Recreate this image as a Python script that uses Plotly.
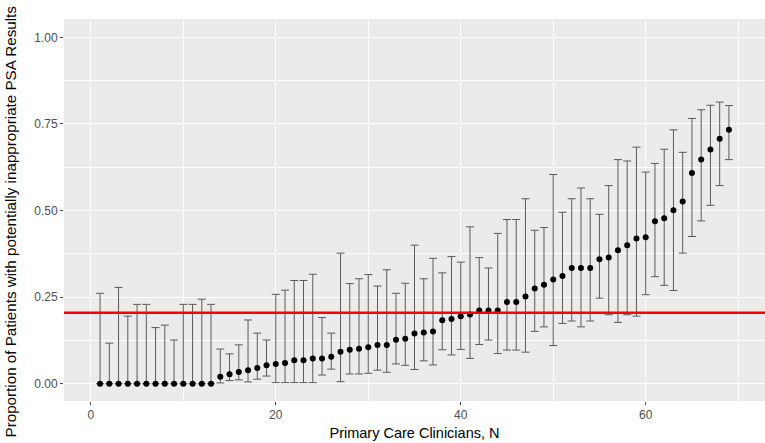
import plotly.graph_objects as go

clinician = list(range(1, 70))
proportion = [0, 0, 0, 0, 0, 0, 0, 0, 0, 0, 0, 0, 0,
              0.020, 0.027, 0.034, 0.039, 0.045, 0.053, 0.057, 0.060, 0.068, 0.068,
              0.073, 0.073, 0.078, 0.092, 0.098, 0.101, 0.105, 0.112, 0.112, 0.127,
              0.130, 0.145, 0.148, 0.151, 0.183, 0.187, 0.195, 0.200, 0.211, 0.211,
              0.211, 0.236, 0.236, 0.252, 0.275, 0.286, 0.301, 0.311, 0.334, 0.334,
              0.334, 0.359, 0.364, 0.385, 0.400, 0.419, 0.423, 0.469, 0.478, 0.501,
              0.526, 0.608, 0.647, 0.676, 0.707, 0.733]
upper = [0.261, 0.117, 0.278, 0.195, 0.229, 0.229, 0.162, 0.169, 0.126, 0.229,
         0.229, 0.244, 0.229, 0.100, 0.086, 0.112, 0.184, 0.146, 0.126, 0.258,
         0.270, 0.298, 0.298, 0.316, 0.191, 0.146, 0.377, 0.289, 0.303, 0.315,
         0.282, 0.329, 0.261, 0.290, 0.400, 0.303, 0.362, 0.320, 0.367, 0.351,
         0.453, 0.364, 0.334, 0.434, 0.474, 0.474, 0.534, 0.443, 0.451, 0.604,
         0.495, 0.534, 0.565, 0.534, 0.489, 0.572, 0.647, 0.643, 0.683, 0.611,
         0.636, 0.677, 0.733, 0.668, 0.766, 0.791, 0.804, 0.813, 0.803]
lower = [0, 0, 0, 0, 0, 0, 0, 0, 0, 0, 0, 0, 0,
         0.002, 0.009, 0.011, 0.005, 0.013, 0.022, 0.003, 0.003, 0.003, 0.003,
         0.003, 0.025, 0.042, 0.006, 0.028, 0.028, 0.030, 0.039, 0.033, 0.057,
         0.053, 0.041, 0.066, 0.054, 0.098, 0.083, 0.099, 0.073, 0.113, 0.126,
         0.087, 0.097, 0.097, 0.091, 0.151, 0.164, 0.110, 0.174, 0.181, 0.164,
         0.181, 0.247, 0.199, 0.177, 0.199, 0.195, 0.257, 0.309, 0.284, 0.269,
         0.377, 0.425, 0.470, 0.515, 0.572, 0.647]
overall_rate = 0.205

x_ticks = [0, 20, 40, 60]
y_ticks = [0, 0.25, 0.5, 0.75, 1.0]
y_tick_labels = ["0.00", "0.25", "0.50", "0.75", "1.00"]

err_plus = [u - p for u, p in zip(upper, proportion)]
err_minus = [p - l for p, l in zip(proportion, lower)]

fig = go.Figure()
fig.add_trace(go.Scatter(
    x=clinician, y=proportion, mode="markers",
    marker=dict(color="black", size=6),
    error_y=dict(type="data", symmetric=False, array=err_plus, arrayminus=err_minus,
                 color="#5a5a5a", thickness=1, width=4),
    showlegend=False, hoverinfo="skip",
))
fig.add_shape(type="line", xref="paper", x0=0, x1=1, yref="y", y0=overall_rate, y1=overall_rate,
              line=dict(color="#ff0000", width=2.5), layer="above")

fig.add_annotation(text="Proportion of Patients with potentially inappropriate PSA Results",
                   xref="paper", yref="paper", x=(10 - 64) / 701, y=(401 - 221.5) / 382,
                   xanchor="center", yanchor="middle", textangle=-90, showarrow=False,
                   font=dict(size=15.2, color="black", family="Liberation Sans, Arial"))

fig.update_layout(
    width=765, height=443,
    margin=dict(l=64, r=0, t=19, b=42, pad=0),
    paper_bgcolor="white", plot_bgcolor="#EBEBEB",
    font=dict(family="Liberation Sans, Arial", color="#4D4D4D", size=12),
    xaxis=dict(range=[-2.9, 72.9], tickvals=x_ticks, showgrid=True, gridcolor="white", gridwidth=1.1,
               zeroline=False, ticks="outside", ticklen=3, tickcolor="#4D4D4D", tickwidth=1,
               minor=dict(dtick=10, tick0=10, showgrid=True, gridcolor="white", gridwidth=0.5, ticks=""),
               title=dict(text="Primary Care Clinicians, N", font=dict(size=14.5, color="black"), standoff=6),
               showline=False, automargin=False),
    yaxis=dict(range=[-0.05, 1.053], tickvals=y_ticks, ticktext=y_tick_labels, showgrid=True,
               gridcolor="white", gridwidth=1.1, zeroline=False, ticks="outside", ticklen=3,
               tickcolor="#4D4D4D", tickwidth=1,
               minor=dict(dtick=0.25, tick0=0.125, showgrid=True, gridcolor="white", gridwidth=0.5, ticks=""),
               showline=False, automargin=False),
)

fig.write_html("out.html", config={"displayModeBar": False},
               post_script="document.body.style.margin='0';document.body.style.padding='0';")
